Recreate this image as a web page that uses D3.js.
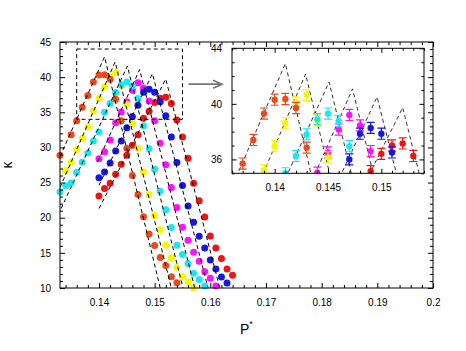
<!DOCTYPE html>
<html>
<head>
<meta charset="utf-8">
<script src="https://cdn.jsdelivr.net/npm/d3@7/dist/d3.min.js"></script>
<style>
  body { margin: 0; background: #fff; }
  svg text { font-family: "Liberation Sans", Arial, sans-serif; }
</style>
</head>
<body>
<div id="chart"></div>
<script>
// ---- data ----
var seriesColors = ['#ec4a1c', '#f6f600', '#1ee6ee', '#ff10ff', '#1616e6', '#ee1414'];

var pOrange = [0.133, 0.135, 0.136, 0.137, 0.138, 0.139, 0.140, 0.141, 0.142, 0.143, 0.144, 0.145, 0.146, 0.147, 0.148, 0.149, 0.150, 0.151, 0.152, 0.153, 0.154];
var kOrange = [28.9, 31.8, 33.8, 35.7, 37.4, 39.3, 40.3, 40.35, 39.7, 36.85, 33.8, 29.9, 26.0, 23.3, 20.15, 17.7, 16.05, 14.35, 13.2, 11.6, 10.75];

var pYellow = [0.134, 0.135, 0.136, 0.137, 0.138, 0.139, 0.140, 0.141, 0.142, 0.143, 0.144, 0.145, 0.146, 0.147, 0.148, 0.149, 0.150, 0.151, 0.152, 0.153, 0.154, 0.155, 0.156, 0.157];
var kYellow = [26.7, 27.9, 29.7, 31.3, 32.9, 35.2, 36.95, 38.6, 40.1, 40.65, 38.8, 36.15, 33.4, 29.9, 26.5, 23.3, 20.3, 18.3, 16.1, 14.3, 12.9, 11.6, 10.9, 10.05];

var pCyan = [0.133, 0.134, 0.135, 0.136, 0.137, 0.138, 0.139, 0.140, 0.141, 0.142, 0.143, 0.144, 0.145, 0.146, 0.147, 0.148, 0.149, 0.150, 0.151, 0.152, 0.153, 0.154, 0.155, 0.156, 0.157, 0.158, 0.159];
var kCyan = [23.7, 24.55, 24.95, 26.45, 27.9, 29.2, 30.9, 32.2, 35.0, 36.25, 37.8, 38.9, 39.3, 38.75, 36.95, 33.1, 29.8, 26.9, 23.75, 21.15, 18.6, 16.1, 14.75, 13.5, 12.1, 11.2, 10.3];

var pMagenta = [0.140, 0.141, 0.142, 0.143, 0.144, 0.145, 0.146, 0.147, 0.148, 0.149, 0.150, 0.151, 0.152, 0.153, 0.154, 0.155, 0.156, 0.157, 0.158, 0.159, 0.160, 0.161];
var kMagenta = [28.4, 29.4, 31.05, 33.5, 35.05, 36.5, 38.15, 39.2, 38.45, 36.6, 33.8, 30.6, 27.55, 24.3, 21.45, 18.65, 16.8, 15.1, 13.8, 12.3, 11.4, 10.3];

var pBlue = [0.140, 0.141, 0.142, 0.143, 0.144, 0.145, 0.146, 0.147, 0.148, 0.149, 0.150, 0.151, 0.152, 0.153, 0.154, 0.155, 0.156, 0.157, 0.158, 0.159, 0.160, 0.161, 0.162, 0.163];
var kBlue = [25.7, 26.5, 27.8, 29.5, 30.9, 32.8, 34.4, 36.0, 37.85, 38.27, 37.85, 36.5, 34.5, 31.5, 27.85, 24.6, 21.65, 19.35, 17.35, 15.7, 14.0, 12.7, 11.55, 10.7];

var pRed = [0.140, 0.141, 0.142, 0.143, 0.144, 0.145, 0.146, 0.147, 0.148, 0.149, 0.150, 0.151, 0.152, 0.153, 0.154, 0.155, 0.156, 0.157, 0.158, 0.159, 0.160, 0.161, 0.162, 0.163, 0.164];
var kRed = [23.1, 24.15, 24.9, 26.2, 27.6, 28.9, 30.3, 31.8, 34.15, 35.15, 36.4, 37.0, 37.15, 36.25, 33.9, 31.5, 28.45, 24.9, 22.4, 20.1, 17.4, 15.7, 14.2, 12.7, 11.8];

var errK = 0.4; // half length of the error bars in the inset

// dashed fits: start of rising line, peak, end of falling line
var fitStartP = [0.133, 0.133, 0.1332, 0.1398, 0.1400, 0.1400];
var fitStartK = [28.7, 24.3, 21.3, 28.0, 24.6, 21.3];
var fitPeakP = [0.1410, 0.1429, 0.1451, 0.1473, 0.1496, 0.1520];
var fitPeakK = [42.9, 42.15, 41.58, 41.08, 40.5, 39.73];
var fitEndP = [0.1510, 0.1530, 0.1551, 0.1572, 0.1596, 0.1617];
var fitEndK = [10, 10, 10, 10, 10, 10];

// zoom box drawn in the main plot
var boxP = [0.136, 0.155];
var boxK = [34, 44];

var xMajor = [0.14, 0.15, 0.16, 0.17, 0.18, 0.19, 0.2];
var xMinor = d3.range(0.134, 0.2, 0.002);
var yMajor = [10, 15, 20, 25, 30, 35, 40, 45];
var yMinor = d3.range(10, 45.5, 1);
var xiMajor = [0.14, 0.145, 0.15];
var xiMinor = d3.range(0.136, 0.1545, 0.001);
var yiMajor = [36, 40, 44];
var yiMinor = d3.range(35, 44.5, 1);

// ---- chart ----
var series = [
    {p: pOrange, k: kOrange, c: seriesColors[0]},
    {p: pYellow, k: kYellow, c: seriesColors[1]},
    {p: pCyan, k: kCyan, c: seriesColors[2]},
    {p: pMagenta, k: kMagenta, c: seriesColors[3]},
    {p: pBlue, k: kBlue, c: seriesColors[4]},
    {p: pRed, k: kRed, c: seriesColors[5]}
];
var drawOrder = [5, 3, 4, 1, 2, 0];

var pts = [];
drawOrder.forEach(function (s) {
    series[s].p.forEach(function (p, i) {
        pts.push({p: p, k: series[s].k[i], c: series[s].c});
    });
});

var fits = fitPeakP.map(function (d, i) {
    return [[fitStartP[i], fitStartK[i]], [fitPeakP[i], fitPeakK[i]], [fitEndP[i], fitEndK[i]]];
});

var svg = d3.select('#chart')
    .append('svg')
    .attr('width', 466)
    .attr('height', 351);

var x = d3.scaleLinear().domain([0.133, 0.2]).range([60, 433]);
var y = d3.scaleLinear().domain([10, 45]).range([288, 42]);
var xi = d3.scaleLinear().domain([0.136, 0.154]).range([232, 424]);
var yi = d3.scaleLinear().domain([35, 44]).range([173.3, 48.3]);

var fmt = function (d) { return String(+d.toFixed(3)); };

function frame(g, xs, ys, opt) {
    var x0 = xs.range()[0], x1 = xs.range()[1], y0 = ys.range()[0], y1 = ys.range()[1];
    var axes = [
        [d3.axisBottom, xs, 'translate(0,' + y0 + ')', opt.xMajor, opt.xMinor, true],
        [d3.axisTop, xs, 'translate(0,' + y1 + ')', opt.xMajor, opt.xMinor, false],
        [d3.axisLeft, ys, 'translate(' + x0 + ',0)', opt.yMajor, opt.yMinor, true],
        [d3.axisRight, ys, 'translate(' + x1 + ',0)', opt.yMajor, opt.yMinor, false]
    ];
    axes.forEach(function (a) {
        var minor = a[4].filter(function (v) {
            return !a[3].some(function (m) { return Math.abs(m - v) < 1e-6; });
        });
        g.append('g')
            .attr('transform', a[2])
            .call(a[0](a[1]).tickValues(minor).tickSize(-opt.minorLen).tickFormat(''))
            .call(function (s) { s.select('.domain').remove(); });
        var ax = g.append('g')
            .attr('transform', a[2])
            .attr('font-size', 15)
            .call(a[0](a[1]).tickValues(a[3]).tickSize(-opt.majorLen)
                .tickPadding(a[0] === d3.axisBottom ? opt.xPad : opt.yPad)
                .tickFormat(a[5] ? fmt : ''));
        ax.select('.domain').remove();
        ax.selectAll('text').attr('font-family', '"Liberation Sans", Arial, sans-serif').attr('fill', '#000');
    });
    g.append('rect')
        .attr('x', x0).attr('y', y1)
        .attr('width', x1 - x0).attr('height', y0 - y1)
        .attr('fill', 'none').attr('stroke', '#000');
}

// main plot
svg.append('clipPath').attr('id', 'clipMain').append('rect')
    .attr('x', 60).attr('y', 42).attr('width', 373).attr('height', 246);

var main = svg.append('g');

main.append('g').selectAll('circle')
    .data(pts)
    .enter()
    .append('circle')
    .attr('cx', function (d) { return x(d.p); })
    .attr('cy', function (d) { return y(d.k); })
    .attr('r', 3.5)
    .attr('fill', function (d) { return d.c; });

var lineMain = d3.line()
    .x(function (d) { return x(d[0]); })
    .y(function (d) { return y(d[1]); });

main.append('g')
    .attr('clip-path', 'url(#clipMain)')
    .selectAll('path')
    .data(fits)
    .enter()
    .append('path')
    .attr('d', lineMain)
    .attr('fill', 'none')
    .attr('stroke', '#000')
    .attr('stroke-width', 1)
    .attr('stroke-dasharray', '4,3');

main.append('rect')
    .attr('x', x(boxP[0])).attr('y', y(boxK[1]))
    .attr('width', x(boxP[1]) - x(boxP[0]))
    .attr('height', y(boxK[0]) - y(boxK[1]))
    .attr('fill', 'none')
    .attr('stroke', '#000')
    .attr('stroke-dasharray', '4,3');

frame(main, x, y, {xMajor: xMajor, xMinor: xMinor, yMajor: yMajor, yMinor: yMinor,
    majorLen: 5, minorLen: 3, xPad: 10.5, yPad: 9});

// arrow from the box to the inset
var ay = (y(boxK[0]) + y(boxK[1])) / 2, ax0 = x(boxP[1]) + 6, ax1 = xi.range()[0] - 10;
svg.append('path')
    .attr('d', 'M' + ax0 + ',' + ay + 'H' + ax1 + 'M' + (ax1 - 9) + ',' + (ay - 4) + 'L' + ax1 + ',' + ay + 'L' + (ax1 - 9) + ',' + (ay + 4))
    .attr('fill', 'none')
    .attr('stroke', '#777')
    .attr('stroke-width', 1.6);

// inset
var inset = svg.append('g');
inset.append('rect')
    .attr('x', 232).attr('y', 48.3).attr('width', 192).attr('height', 125)
    .attr('fill', '#fff');

svg.append('clipPath').attr('id', 'clipInset').append('rect')
    .attr('x', 232).attr('y', 48.3).attr('width', 192).attr('height', 125);

var inner = inset.append('g').attr('clip-path', 'url(#clipInset)');

var lineInset = d3.line()
    .x(function (d) { return xi(d[0]); })
    .y(function (d) { return yi(d[1]); });

inner.append('g')
    .selectAll('path')
    .data(fits)
    .enter()
    .append('path')
    .attr('d', lineInset)
    .attr('fill', 'none')
    .attr('stroke', '#333')
    .attr('stroke-width', 1)
    .attr('stroke-dasharray', '4,3');

var ip = inner.append('g').selectAll('g')
    .data(pts.filter(function (d) { return d.p >= 0.1355 && d.p <= 0.1545 && d.k > 34; }))
    .enter()
    .append('g')
    .attr('stroke', function (d) { return d.c; })
    .attr('fill', function (d) { return d.c; });

ip.append('path')
    .attr('d', function (d) {
        var cx = xi(d.p), t = yi(d.k + errK), b = yi(d.k - errK);
        return 'M' + cx + ',' + t + 'V' + b + 'M' + (cx - 4) + ',' + t + 'H' + (cx + 4) + 'M' + (cx - 4) + ',' + b + 'H' + (cx + 4);
    })
    .attr('fill', 'none')
    .attr('stroke-width', 1.2);

ip.append('circle')
    .attr('cx', function (d) { return xi(d.p); })
    .attr('cy', function (d) { return yi(d.k); })
    .attr('r', 3.2)
    .attr('stroke', 'none');

frame(inset, xi, yi, {xMajor: xiMajor, xMinor: xiMinor, yMajor: yiMajor, yMinor: yiMinor,
    majorLen: 4.5, minorLen: 2.5, xPad: 10.4, yPad: 10});

// axis titles
svg.append('text')
    .attr('transform', 'translate(12,165) rotate(-90)')
    .attr('text-anchor', 'middle')
    .attr('font-size', 14)
    .text('κ');

var xt = svg.append('text')
    .attr('x', 240)
    .attr('y', 333.5)
    .attr('font-size', 14);
xt.append('tspan').text('P');
xt.append('tspan').attr('dy', -7).attr('font-size', 9).text('*');
</script>
</body>
</html>
